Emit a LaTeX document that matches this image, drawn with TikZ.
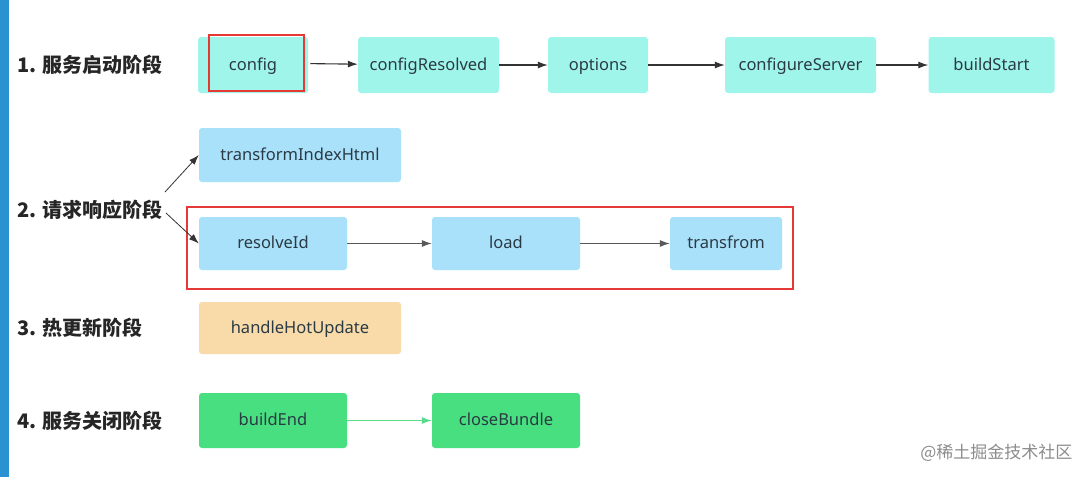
\documentclass[tikz,border=0pt]{standalone}
\usepackage{fontspec}
\setmainfont{Noto Sans}
\newfontfamily\cjk{Noto Sans CJK SC}
\usetikzlibrary{arrows.meta}
\definecolor{hookcyan}{HTML}{A0F5EA}
\definecolor{hookblue}{HTML}{A9E1FA}
\definecolor{hookorange}{HTML}{F8DBA9}
\definecolor{hookgreen}{HTML}{48DF80}
\definecolor{hookline}{HTML}{5ADB8C}
\definecolor{hooktext}{HTML}{2A3A44}
\definecolor{markred}{HTML}{E53935}
\definecolor{stripe}{HTML}{2B92D2}
\begin{document}
\begin{tikzpicture}[x=1pt,y=-1pt]
            \tikzset{hook/.style = {shape=rectangle, rounded corners=3pt, minimum height=56pt, text=hooktext, text height=12.5pt, text depth=2pt, font=\fontsize{16.5}{19}\selectfont}}
            \tikzset{stage/.style = {anchor=west, text=black!85, font=\cjk\fontsize{20}{24}\selectfont\bfseries}}
            \tikzset{edge/.style = {-{Latex[length=10pt,width=7pt]}, line width=1.1pt, draw=black!80}}
            \tikzset{frame/.style = {draw=markred, line width=2.5pt, minimum height=56pt}}
            \useasboundingbox (0,0) rectangle (1090,477);
            \fill[white] (0,0) rectangle (1090,477);
            \fill[stripe] (0,0) rectangle (9,477);
            % stages
            \node[stage] (s1) at (14,65) {1. 服务启动阶段};
            \node[stage] (s2) at (14,210) {2. 请求响应阶段};
            \node[stage] (s3) at (14,328) {3. 热更新阶段};
            \node[stage] (s4) at (14,421) {4. 服务关闭阶段};
            % hooks
            \node[hook, fill=hookcyan, minimum width=110pt] (config) at (253,65) {config};
            \node[hook, fill=hookcyan, minimum width=141pt] (configResolved) at (428.5,65) {configResolved};
            \node[hook, fill=hookcyan, minimum width=100pt] (options) at (598,65) {options};
            \node[hook, fill=hookcyan, minimum width=151pt] (configureServer) at (800.5,65) {configureServer};
            \node[hook, fill=hookcyan, minimum width=126pt] (buildStart) at (991.5,65) {buildStart};
            \node[hook, fill=hookblue, minimum width=202pt, minimum height=54pt] (transformIndexHtml) at (300,155) {transformIndexHtml};
            \node[hook, fill=hookblue, minimum width=148pt, minimum height=53pt] (resolveId) at (273,243.5) {resolveId};
            \node[hook, fill=hookblue, minimum width=148pt, minimum height=53pt] (load) at (506,243.5) {load};
            \node[hook, fill=hookblue, minimum width=112pt, minimum height=53pt] (transfrom) at (726,243.5) {transfrom};
            \node[hook, fill=hookorange, minimum width=202pt, minimum height=52pt] (handleHotUpdate) at (300,328) {handleHotUpdate};
            \node[hook, fill=hookgreen, minimum width=148pt, minimum height=55pt] (buildEnd) at (273,420.5) {buildEnd};
            \node[hook, fill=hookgreen, minimum width=148pt, minimum height=55pt] (closeBundle) at (506,420.5) {closeBundle};
            % highlights
            \node[frame, minimum width=95pt] (mark1) at (256.5,63) {};
            \node[frame, minimum width=606pt, minimum height=82pt] (mark2) at (490,248) {};
            % edges
            \coordinate (s2up) at (165,192);
            \coordinate (s2down) at (166,213);
            \draw[edge, shorten <=5pt] (mark1) to (configResolved);
            \draw[edge] (configResolved) to (options);
            \draw[edge] (options) to (configureServer);
            \draw[edge] (configureServer) to (buildStart);
            \draw[edge, line width=0.8pt] (s2up) to (transformIndexHtml.west);
            \draw[edge, line width=0.8pt] (s2down) to (resolveId.west);
            \draw[edge, draw=black!65] (resolveId) to (load);
            \draw[edge, draw=black!65] (load) to (transfrom);
            \draw[edge, draw=hookline] (buildEnd) to (closeBundle);
            % watermark
            \node[anchor=east, text=black!45, font=\cjk\fontsize{17}{20}\selectfont] (site) at (1076,453) {@稀土掘金技术社区};
        \end{tikzpicture}
\end{document}
